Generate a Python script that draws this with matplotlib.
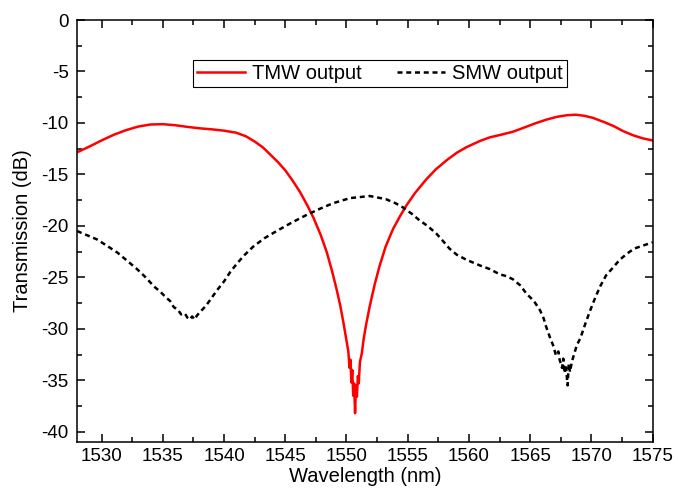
import matplotlib
matplotlib.use('Agg')
import matplotlib.pyplot as plt
from matplotlib.ticker import MultipleLocator

plt.rcParams.update({
    'font.family': ['Liberation Sans', 'DejaVu Sans'],
    'font.size': 13.5,
    'axes.linewidth': 1.1,
    'axes.unicode_minus': False,
    'xtick.direction': 'in',
    'ytick.direction': 'in',
    'xtick.top': True,
    'ytick.right': True,
})

# TMW output (red solid)
tmw_wl = [1528.0, 1529.0, 1530.0, 1531.0, 1532.0, 1533.0, 1534.0, 1535.0, 1536.0,
          1537.0, 1538.0, 1539.0, 1540.0, 1541.0, 1541.8, 1542.5, 1543.2, 1543.8,
          1544.4, 1545.0, 1545.6, 1546.2, 1546.8, 1547.3, 1547.9, 1548.4, 1548.8,
          1549.2, 1549.5, 1549.75, 1549.95, 1550.15, 1550.25, 1550.32, 1550.4,
          1550.47, 1550.55, 1550.62, 1550.7, 1550.78, 1550.85, 1550.93, 1551.0,
          1551.1, 1551.25, 1551.4, 1551.6, 1551.9, 1552.3, 1552.7, 1553.2, 1553.8,
          1554.4, 1554.9, 1555.6, 1556.5, 1557.3, 1558.2, 1559.0, 1559.8, 1560.9,
          1561.7, 1562.6, 1563.6, 1564.5, 1565.5, 1566.4, 1567.2, 1568.0, 1568.7,
          1569.4, 1570.1, 1571.0, 1571.8, 1572.6, 1573.4, 1574.2, 1575.0]
tmw_db = [-12.85, -12.3, -11.7, -11.15, -10.7, -10.35, -10.15, -10.12, -10.22,
          -10.38, -10.52, -10.62, -10.75, -10.95, -11.3, -11.8, -12.4, -13.1,
          -13.8, -14.6, -15.6, -16.7, -18.0, -19.2, -20.9, -22.6, -24.3,
          -26.2, -27.8, -29.4, -30.8, -32.2, -33.8, -33.0, -35.2,
          -34.0, -36.5, -35.3, -38.2, -35.5, -36.6, -34.6, -35.3,
          -33.2, -32.4, -31.0, -29.6, -27.8, -25.7, -23.9, -22.0, -20.3,
          -19.0, -18.0, -16.8, -15.5, -14.5, -13.6, -12.9, -12.35, -11.75,
          -11.4, -11.15, -10.85, -10.45, -10.0, -9.65, -9.4, -9.25, -9.2,
          -9.3, -9.5, -9.9, -10.3, -10.8, -11.2, -11.5, -11.7]

# SMW output (black dashed)
smw_wl = [1528.0, 1528.8, 1529.6, 1530.4, 1531.3, 1532.1, 1532.9, 1533.6, 1534.3,
          1534.8, 1535.3, 1535.6, 1535.9, 1536.2, 1536.5, 1536.8, 1537.0, 1537.2,
          1537.4, 1537.6, 1537.8, 1538.1, 1538.5, 1538.9, 1539.4, 1540.0, 1540.5,
          1541.1, 1541.7, 1542.4, 1543.3, 1544.3, 1545.5, 1546.8, 1547.9, 1548.9,
          1550.3, 1551.9, 1553.2, 1554.0, 1554.6, 1555.3, 1555.9, 1556.6, 1557.3,
          1557.9, 1558.4, 1559.0, 1559.8, 1560.9, 1561.7, 1562.5, 1563.1, 1563.6,
          1564.2, 1564.7, 1565.3, 1565.8, 1566.1, 1566.3, 1566.6, 1566.9, 1567.1,
          1567.3, 1567.4, 1567.6, 1567.7, 1567.8, 1567.9, 1568.05, 1568.15, 1568.25,
          1568.4, 1568.6, 1568.8, 1569.1, 1569.5, 1569.9, 1570.3, 1570.7, 1571.2,
          1571.8, 1572.3, 1572.9, 1573.5, 1574.0, 1575.0]
smw_db = [-20.5, -20.9, -21.3, -21.9, -22.6, -23.4, -24.2, -25.0, -25.9,
          -26.4, -27.0, -27.3, -27.9, -28.1, -28.6, -28.5, -28.9, -29.1,
          -28.8, -29.1, -28.7, -28.3, -27.8, -27.15, -26.3, -25.4, -24.5,
          -23.6, -22.8, -22.0, -21.2, -20.5, -19.7, -18.9, -18.3, -17.8,
          -17.3, -17.1, -17.4, -17.8, -18.2, -18.8, -19.4, -20.0, -20.7,
          -21.5, -22.2, -22.8, -23.3, -23.85, -24.2, -24.7, -24.9, -25.2,
          -25.8, -26.6, -27.3, -28.2, -29.0, -29.8, -30.8, -31.7, -32.6,
          -32.2, -33.0, -33.8, -32.9, -34.3, -33.5, -35.5, -33.4, -34.2,
          -33.2, -32.4, -31.6, -30.9, -29.5, -28.2, -27.0, -25.9, -24.8,
          -24.0, -23.3, -22.7, -22.2, -22.0, -21.6]


def make_chart():
    fig = plt.figure(figsize=(6.78, 4.91), dpi=100)
    ax = fig.add_axes([0.1136, 0.0998, 0.8491, 0.8594])

    ax.plot(tmw_wl, tmw_db, color='#ff0000', lw=1.8, label='TMW output')
    ax.plot(smw_wl, smw_db, color='black', lw=1.8, linestyle=(0, (2.0, 1.5)),
            label='SMW output')

    ax.set_xlim(1528, 1575)
    ax.set_ylim(-41, 0)
    ax.xaxis.set_major_locator(MultipleLocator(5))
    ax.xaxis.set_minor_locator(MultipleLocator(2.5))
    ax.yaxis.set_major_locator(MultipleLocator(5))
    ax.yaxis.set_minor_locator(MultipleLocator(2.5))
    ax.tick_params(which='major', length=6, width=1.1)
    ax.tick_params(which='minor', length=3.5, width=1.1)
    ax.tick_params(axis='x', which='both', top=True, pad=4)
    ax.tick_params(axis='y', which='both', right=True, pad=6)

    ax.set_xlabel('Wavelength (nm)', fontsize=14.5, labelpad=2)
    ax.set_ylabel('Transmission (dB)', fontsize=14.5, labelpad=7)

    leg = ax.legend(loc='center', bbox_to_anchor=(0.526, 0.874), ncol=2,
                    frameon=True, fancybox=False, framealpha=1,
                    edgecolor='black', handlelength=2.4, columnspacing=1.75,
                    handletextpad=0.35, borderpad=0.2, fontsize=14.5)
    leg.get_frame().set_linewidth(0.8)

    fig.savefig('out.png', dpi=100, facecolor='white')
    plt.close(fig)


if __name__ == '__main__':
    make_chart()
